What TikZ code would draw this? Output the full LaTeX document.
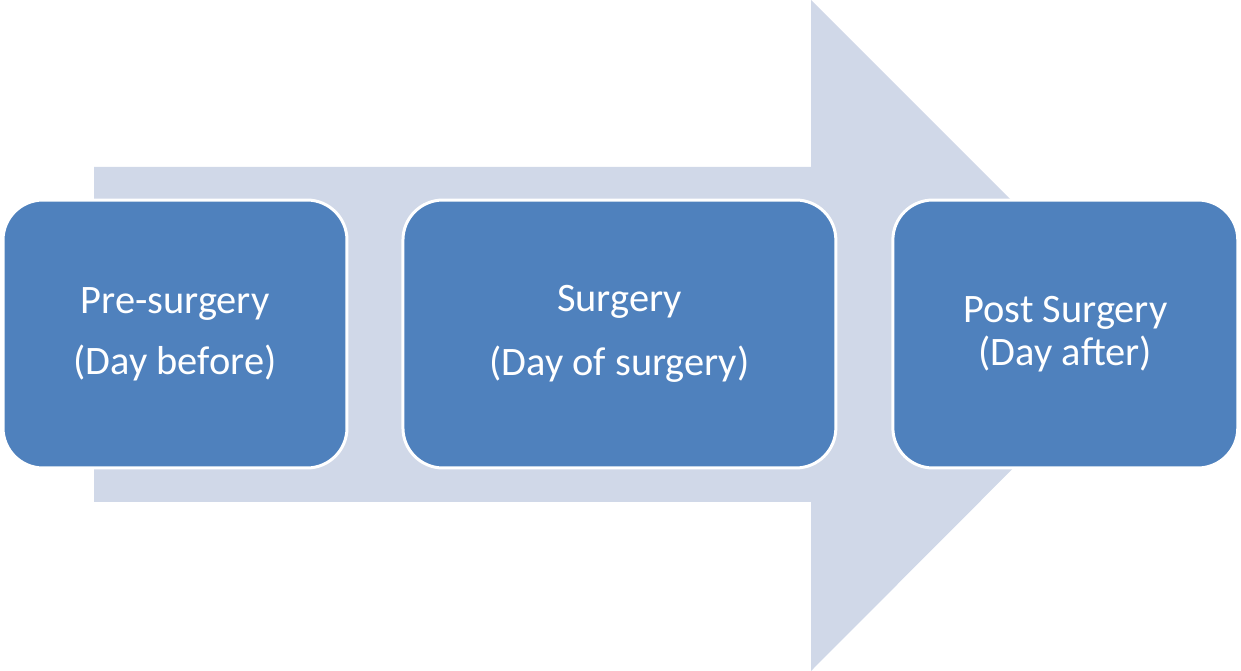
\documentclass[tikz,border=0pt]{standalone}
\usepackage{fontspec}
\setmainfont{Carlito}
\usepackage{tikz}
\usetikzlibrary{shapes.geometric, arrows}
\usetikzlibrary{positioning}
\definecolor{stageblue}{RGB}{79,129,189}
\definecolor{flowgray}{RGB}{208,216,232}
\tikzstyle{stage} = [rectangle, rounded corners=0.8cm, minimum height=5.36cm, inner sep=0pt, align=center, text centered, fill=stageblue, draw=white, line width=0.06cm, text=white, font=\fontsize{23}{24.4}\selectfont]

\begin{document}
\begin{tikzpicture}[x=0.02cm, y=-0.02cm, node distance=8.9cm]
\useasboundingbox (0,0) rectangle (1241,671);
% big arrow behind the stages
\fill [flowgray] (94,167) -- (811,167) -- (811,0) -- (1146,335) -- (811,671) -- (811,502) -- (94,502) -- cycle;
\node (pre) [stage, minimum width=6.88cm] at (175,334) {Pre-surgery\\[10.3pt](Day before)};
\node (surg) [stage, minimum width=8.66cm, right of = pre, xshift=-0.01cm] {Surgery\\[12pt](Day of surgery)};
\node (post) [stage, minimum width=6.9cm, right of = surg, xshift=0.02cm] {Post Surgery\\(Day after)};
\end{tikzpicture}
\end{document}
